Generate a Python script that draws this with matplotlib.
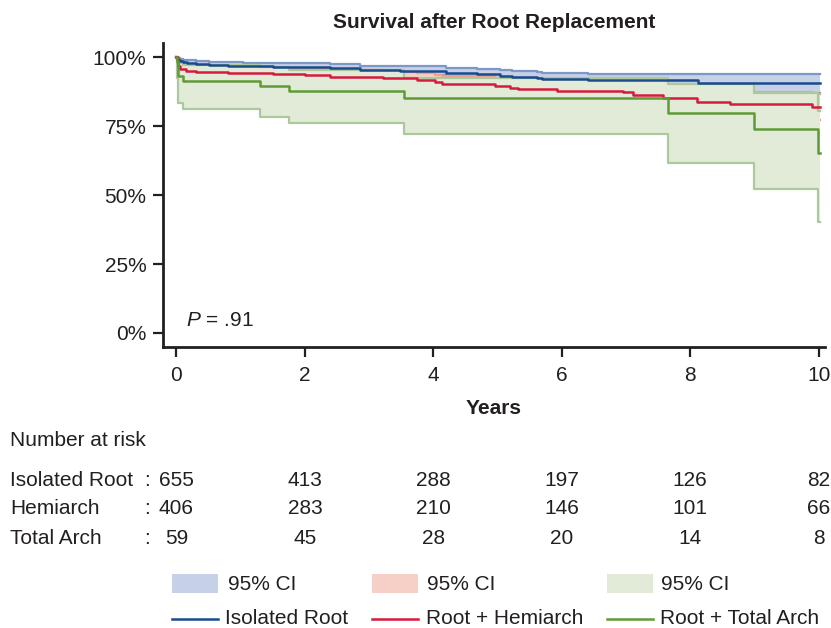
import numpy as np
import matplotlib
matplotlib.use('Agg')
import matplotlib.pyplot as plt
from matplotlib.patches import Rectangle
from matplotlib.lines import Line2D
from matplotlib.transforms import blended_transform_factory

plt.rcParams['font.family'] = ['Liberation Sans', 'DejaVu Sans']
plt.rcParams['mathtext.fontset'] = 'custom'
plt.rcParams['mathtext.it'] = 'Liberation Sans:italic'
plt.rcParams['mathtext.rm'] = 'Liberation Sans'

TXT = '#231f20'

# Kaplan-Meier estimates (years, survival %)
iso_t = [0, 0.01, 0.03, 0.06, 0.1, 0.16, 0.3, 0.5, 0.8, 1.04, 1.5, 2.39, 2.86, 3.48, 4.2, 4.68, 5.04, 5.23, 5.61, 5.69, 6.41, 8.12]
iso_s = [100, 99.4, 99.0, 98.6, 98.2, 97.8, 97.5, 97.2, 97.0, 96.8, 96.6, 96.3, 95.5, 95.2, 94.3, 93.8, 93.2, 92.8, 92.4, 92.0, 91.7, 90.6]
iso_hi = [100, 100, 99.8, 99.5, 99.2, 98.9, 98.7, 98.4, 98.2, 98.0, 97.9, 97.7, 97.0, 96.8, 96.2, 95.8, 95.3, 94.9, 94.6, 94.3, 94.1, 93.8]
iso_lo = [100, 98.8, 98.2, 97.7, 97.2, 96.7, 96.3, 96.0, 95.7, 95.5, 95.2, 94.8, 93.9, 93.5, 92.4, 91.8, 91.1, 90.6, 90.1, 89.7, 89.3, 87.2]

hemi_t = [0, 0.02, 0.05, 0.15, 0.3, 0.8, 1.5, 2.0, 2.39, 3.22, 3.75, 4.03, 4.14, 4.96, 5.19, 5.32, 5.93, 6.95, 7.11, 7.58, 8.11, 8.62, 9.9]
hemi_s = [100, 97.0, 95.6, 95.0, 94.6, 94.2, 93.9, 93.6, 93.0, 92.4, 91.8, 90.9, 90.5, 89.6, 88.8, 88.4, 87.8, 87.3, 86.3, 85.4, 83.9, 83.1, 81.9]
hemi_hi = [100, 98.5, 97.4, 96.9, 96.6, 96.3, 96.0, 95.8, 95.3, 94.8, 94.3, 93.6, 93.2, 92.5, 91.8, 91.5, 91.0, 90.6, 89.8, 89.2, 88.0, 87.5, 86.6]
hemi_lo = [100, 95.5, 93.8, 93.1, 92.6, 92.1, 91.8, 91.4, 90.7, 90.0, 89.3, 88.2, 87.8, 86.7, 85.8, 85.3, 84.6, 84.0, 82.8, 81.6, 79.8, 78.7, 77.2]

tot_t = [0, 0.01, 0.02, 0.03, 0.1, 1.3, 1.75, 3.55, 7.66, 9.0, 9.99]
tot_s = [100, 98.3, 96.6, 93.2, 91.5, 89.7, 87.8, 85.4, 79.7, 73.9, 65.2]
tot_hi = [100, 100, 99.5, 98.0, 97.2, 96.4, 95.4, 92.6, 90.3, 87.0, 80.5]
tot_lo = [100, 92.5, 87.5, 83.4, 81.2, 78.5, 76.3, 72.1, 61.8, 52.2, 40.4]

t_end = 10.02

risk_times = [0, 2, 4, 6, 8, 10]
risk_rows = ['Isolated Root', 'Hemiarch', 'Total Arch']
risk_iso = [655, 413, 288, 197, 126, 82]
risk_hemi = [406, 283, 210, 146, 101, 66]
risk_tot = [59, 45, 28, 20, 14, 8]

legend_names = ['Isolated Root', 'Root + Hemiarch', 'Root + Total Arch']

groups = [
    (iso_t, iso_s, iso_lo, iso_hi, '#1b4b8c', '#c6d0e6', '#7d98c7'),
    (hemi_t, hemi_s, hemi_lo, hemi_hi, '#d51a40', '#f6d0c6', '#eca194'),
    (tot_t, tot_s, tot_lo, tot_hi, '#5f9b37', '#e1ebd8', '#abc99b'),
]

W, H = 831, 628
fx = lambda px: px / W
fy = lambda py: 1 - py / H

fig = plt.figure(figsize=(W / 100, H / 100), dpi=100)
ax = fig.add_axes([fx(163), fy(347), fx(825) - fx(163), fy(43) - fy(347)])

for k, (t, s, lo, hi, lc, fc, ec) in enumerate(groups):
    tt = np.append(t, t_end)
    ax.fill_between(tt, np.append(lo, lo[-1]), np.append(hi, hi[-1]), step='post',
                    color=fc, lw=0, zorder=1 + k)
    ax.step(tt, np.append(hi, hi[-1]), where='post', color=ec, lw=1.6, zorder=1 + k)
    ax.step(tt, np.append(lo, lo[-1]), where='post', color=ec, lw=1.6, zorder=1 + k)
for k, (t, s, lo, hi, lc, fc, ec) in enumerate(groups):
    tt = np.append(t, t_end)
    ax.step(tt, np.append(s, s[-1]), where='post', color=lc, lw=1.8, zorder=6 + k)

ax.set_xlim(-0.21, 10.1)
ax.set_ylim(-5.1, 105.2)
ax.set_xticks(risk_times)
ax.set_yticks([0, 25, 50, 75, 100])
ax.set_yticklabels(['0%', '25%', '50%', '75%', '100%'])
for side in ['top', 'right']:
    ax.spines[side].set_visible(False)
for side in ['left', 'bottom']:
    ax.spines[side].set_linewidth(2)
    ax.spines[side].set_color(TXT)
ax.tick_params(direction='out', length=7, width=1.6, labelsize=15, colors=TXT, pad=5)
ax.tick_params(axis='x', pad=7)
ax.set_xlabel('Years', fontsize=15, fontweight='bold', color=TXT, labelpad=10)
ax.set_title('Survival after Root Replacement', fontsize=15, fontweight='bold', color=TXT, pad=11)
ax.text(0.15, 2.5, r'$\it{P}$ = .91', fontsize=15, color=TXT)

# number at risk table
tr = blended_transform_factory(ax.transData, fig.transFigure)
fig.text(fx(10), fy(441), 'Number at risk', fontsize=15, color=TXT, va='center')
for name, vals, py in zip(risk_rows, [risk_iso, risk_hemi, risk_tot], [480, 509, 538]):
    fig.text(fx(10), fy(py), name, fontsize=15, color=TXT, va='center')
    fig.text(fx(144), fy(py), ':', fontsize=15, color=TXT, va='center')
    for t, v in zip(risk_times, vals):
        fig.text(t, fy(py), str(v), transform=tr, fontsize=15, color=TXT, va='center', ha='center')

# legend drawn by hand
col_x = [172, 372, 607]
txt_x = [228, 427, 661]
for k, (t, s, lo, hi, lc, fc, ec) in enumerate(groups):
    fig.add_artist(Rectangle((fx(col_x[k]), fy(593)), fx(46), fy(574) - fy(593),
                             transform=fig.transFigure, facecolor=fc, edgecolor='none'))
    fig.text(fx(txt_x[k]), fy(584), '95% CI', fontsize=15, color=TXT, va='center')
    fig.add_artist(Line2D([fx(col_x[k]), fx(col_x[k] + 46)], [fy(619), fy(619)],
                          transform=fig.transFigure, color=lc, lw=1.8))
    fig.text(fx(txt_x[k] - 3 if k == 0 else txt_x[k] - 1), fy(619), legend_names[k],
             fontsize=15, color=TXT, va='center')

fig.savefig('out.png', dpi=100)
